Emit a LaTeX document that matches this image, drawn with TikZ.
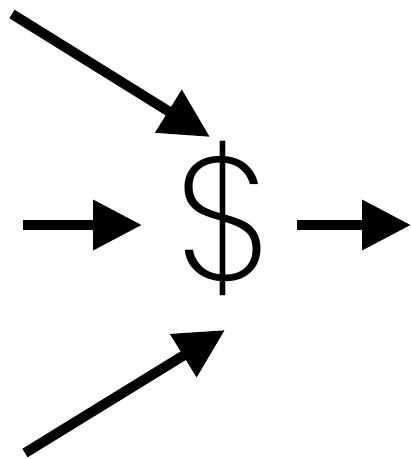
\documentclass[tikz,border=0pt]{standalone}
\usepackage{fontspec}
\newfontfamily\dollarfont{Poppins ExtraLight}
\usetikzlibrary{arrows.meta}
\tikzset{
  flow/.style={line width=10pt,-{Triangle[length=49pt,width=48pt]}},
}
\begin{document}
\begin{tikzpicture}[x=1pt,y=-1pt]
\useasboundingbox (0,0) rectangle (411,459);
\node[inner sep=0pt] (dollar) at (224,218) {\dollarfont\fontsize{175}{175}\selectfont\$};
\coordinate (s1) at (12,14);   \coordinate (t1) at (210,137);
\coordinate (s2) at (23,225);  \coordinate (t2) at (142,225);
\coordinate (s3) at (297,225); \coordinate (t3) at (411,225);
\coordinate (s4) at (25,453);  \coordinate (t4) at (225,330);
\draw[flow] (s1) -- (t1);
\draw[flow] (s2) -- (t2);
\draw[flow] (s3) -- (t3);
\draw[flow] (s4) -- (t4);
\end{tikzpicture}
\end{document}
